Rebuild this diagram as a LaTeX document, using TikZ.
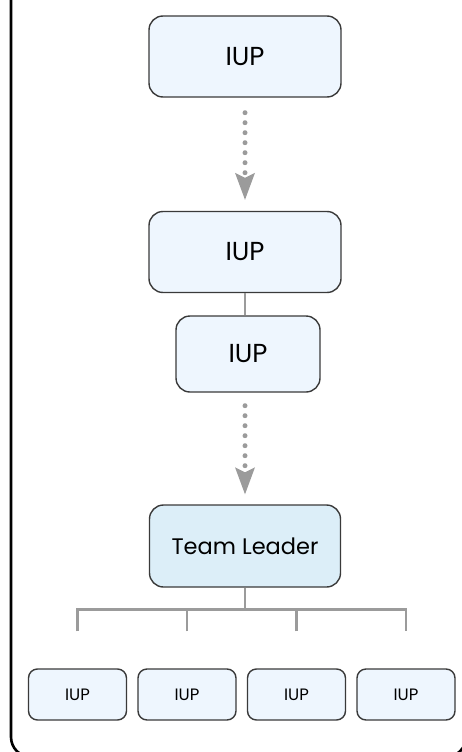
\documentclass[tikz,border=0pt]{standalone}
\usepackage{fontspec}
\setmainfont{Poppins}
\usetikzlibrary{arrows.meta,calc}
\definecolor{boxfill}{HTML}{EEF6FE}
\definecolor{leadfill}{HTML}{DCEEF8}
\definecolor{edgegray}{HTML}{3A3A3A}
\definecolor{linkgray}{HTML}{9B9B9B}
\begin{document}
\begin{tikzpicture}[x=1pt,y=-1pt,
  unit/.style={draw=edgegray, line width=1.4pt, fill=boxfill, rounded corners=14pt,
    inner sep=0pt, font=\fontsize{26}{30}\selectfont},
  bigunit/.style={unit, minimum width=192pt, minimum height=81pt},
  subunit/.style={unit, minimum width=144pt, minimum height=76pt},
  leadbox/.style={unit, fill=leadfill, minimum width=191pt, minimum height=82pt,
    font=\fontsize{22.5}{26}\selectfont},
  smallunit/.style={unit, rounded corners=9pt, minimum width=98pt, minimum height=51pt,
    font=\fontsize{16.5}{19}\selectfont},
  dotlink/.style={draw=linkgray, line width=5pt, line cap=round, dash pattern=on 0pt off 10pt,
    -{Stealth[length=27pt,width=20pt,inset=5pt,line width=0pt]}},
  tree/.style={draw=linkgray, line width=2.8pt},
  frame/.style={draw=black, line width=2.6pt, rounded corners=20pt}]
  \useasboundingbox (0,0) rectangle (462,752);
  \clip (0,0) rectangle (462,752);

  % outer frame, partly outside the page
  \draw[frame] (11,-30) rectangle (466,757);

  % chain of units
  \node[bigunit] (top) at (245,56.5) {IUP};
  \node[bigunit] (mid) at (245,252) {IUP};
  \node[subunit] (sub) at (248,354) {IUP};
  \node[leadbox] (lead) at (245,546) {Team Leader};

  % team members
  \node[smallunit] (m1) at (77.5,694.5) {IUP};
  \node[smallunit] (m2) at (187,694.5) {IUP};
  \node[smallunit] (m3) at (296.5,694.5) {IUP};
  \node[smallunit] (m4) at (406,694.5) {IUP};

  % dotted arrows
  \draw[dotlink, shorten <=15pt, shorten >=11pt] (top.south) -- (mid.north);
  \draw[dotlink, shorten <=13pt, shorten >=10pt] (sub.south -| lead.north) -- (lead.north);

  % solid link
  \draw[tree, line width=2.5pt] (mid.south -| 245,0) -- (sub.north -| 245,0);

  % tree below the team leader
  \coordinate (bus) at ($(lead.south)+(0,22)$);
  \coordinate (d1) at ($(m1.north)+(0,-37)$);
  \coordinate (d2) at ($(m2.north)+(0,-37)$);
  \coordinate (d3) at ($(m3.north)+(0,-37)$);
  \coordinate (d4) at ($(m4.north)+(0,-37)$);
  \draw[tree] (lead.south) -- (bus);
  \draw[tree] (d1) |- (bus) -| (d4);
  \draw[tree] (d2) -- (d2 |- bus);
  \draw[tree] (d3) -- (d3 |- bus);
\end{tikzpicture}
\end{document}
